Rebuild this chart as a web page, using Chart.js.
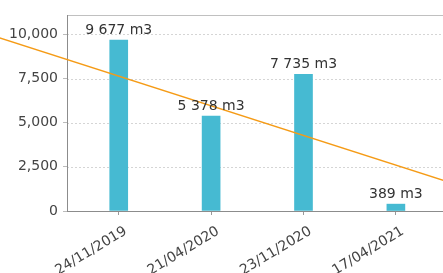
<!DOCTYPE html>
<html>
<head>
<meta charset="utf-8">
<script src="https://cdn.jsdelivr.net/npm/chart.js@4/dist/chart.umd.min.js"></script>
<style>
  html, body { margin: 0; padding: 0; background: #fff; overflow: hidden; }
  #wrap { width: 443px; height: 273px; }
</style>
</head>
<body>
<div id="wrap"><canvas id="myChart"></canvas></div>
<script>
// dates of the readings
var dates = ['24/11/2019', '21/04/2020', '23/11/2020', '17/04/2021'];
// volumes, m3
var volumes = [9677, 5378, 7735, 389];
// trend line (x in category units)
var trendX = [-1.5, 4.5];
var trendY = [10160, 80];
var yTicks = [0, 2500, 5000, 7500, 10000];

function fmt(v) {
  return String(v).replace(/\B(?=(\d{3})+(?!\d))/g, ' ') + ' m3';
}

// grid, axes and top line, drawn from the scales
var frame = {
  id: 'frame',
  beforeDatasetsDraw: function (chart) {
    var a = chart.chartArea;
    var ys = chart.scales.y;
    var ctx = chart.ctx;
    var right = chart.width;
    ctx.save();
    ctx.lineWidth = 1;
    ctx.strokeStyle = '#d5d5d5';
    ctx.setLineDash([2, 2]);
    ctx.beginPath();
    yTicks.forEach(function (v) {
      if (v === 0) return;
      var y = Math.round(ys.getPixelForValue(v)) + 0.5;
      ctx.moveTo(a.left, y);
      ctx.lineTo(right, y);
    });
    ctx.stroke();
    ctx.setLineDash([]);
    ctx.strokeStyle = '#c0c0c0';
    ctx.beginPath();
    ctx.moveTo(a.left, Math.round(a.top) + 0.5);
    ctx.lineTo(right, Math.round(a.top) + 0.5);
    ctx.stroke();
    ctx.strokeStyle = '#8c8c8c';
    ctx.beginPath();
    ctx.moveTo(Math.round(a.left) + 0.5, a.top);
    ctx.lineTo(Math.round(a.left) + 0.5, a.bottom);
    ctx.moveTo(a.left, Math.round(a.bottom) + 0.5);
    ctx.lineTo(right, Math.round(a.bottom) + 0.5);
    ctx.stroke();
    ctx.restore();
  }
};

// trend line runs past the plot area, so it is drawn here through the scales
var trendLine = {
  id: 'trendLine',
  afterDatasetsDraw: function (chart) {
    var xs = chart.scales.x, ys = chart.scales.y;
    var ctx = chart.ctx;
    ctx.save();
    ctx.strokeStyle = '#f59b16';
    ctx.lineWidth = 1.5;
    ctx.beginPath();
    trendX.forEach(function (x, i) {
      var px = xs.getPixelForValue(x), py = ys.getPixelForValue(trendY[i]);
      if (i === 0) ctx.moveTo(px, py); else ctx.lineTo(px, py);
    });
    ctx.stroke();
    ctx.restore();
  }
};

var valueLabels = {
  id: 'valueLabels',
  afterDatasetsDraw: function (chart) {
    var ctx = chart.ctx;
    var meta = chart.getDatasetMeta(0);
    ctx.save();
    ctx.font = '14px "DejaVu Sans"';
    ctx.fillStyle = '#333';
    ctx.textAlign = 'center';
    ctx.textBaseline = 'alphabetic';
    meta.data.forEach(function (bar, i) {
      ctx.fillText(fmt(volumes[i]), bar.x, bar.y - 6);
    });
    ctx.restore();
  }
};

var ctx = document.getElementById('myChart').getContext('2d');
var chart = new Chart(ctx, {
  type: 'bar',
  data: {
    datasets: [{
      data: volumes.map(function (v, i) { return { x: i, y: v }; }),
      backgroundColor: '#46bad2',
      barThickness: 18
    }]
  },
  options: {
    responsive: true,
    maintainAspectRatio: false,
    animation: false,
    layout: { padding: { top: 15, right: 0, bottom: 0, left: 0 } },
    plugins: { legend: { display: false }, tooltip: { enabled: false } },
    scales: {
      x: {
        type: 'linear',
        offset: false,
        min: -0.56,
        max: 3.51,
        afterBuildTicks: function (s) { s.ticks = dates.map(function (d, i) { return { value: i }; }); },
        afterFit: function (s) { s.height = 62; },
        grid: { offset: false, drawOnChartArea: false, drawTicks: true, tickLength: 4, color: '#999' },
        border: { display: false },
        ticks: {
          minRotation: 31,
          maxRotation: 31,
          padding: 8,
          labelOffset: 7,
          color: '#444',
          font: { family: 'DejaVu Sans', size: 14 },
          callback: function (v) { return dates[v]; }
        }
      },
      y: {
        min: 0,
        max: 11100,
        afterBuildTicks: function (s) { s.ticks = yTicks.map(function (v) { return { value: v }; }); },
        afterFit: function (s) { s.width = 67; },
        grid: { drawOnChartArea: false, tickLength: 4, color: '#bbb' },
        border: { display: false },
        ticks: {
          padding: 5,
          color: '#444',
          font: { family: 'DejaVu Sans', size: 14 },
          callback: function (v) { return v.toLocaleString('en-US'); }
        }
      }
    }
  },
  plugins: [frame, trendLine, valueLabels]
});
</script>
</body>
</html>
